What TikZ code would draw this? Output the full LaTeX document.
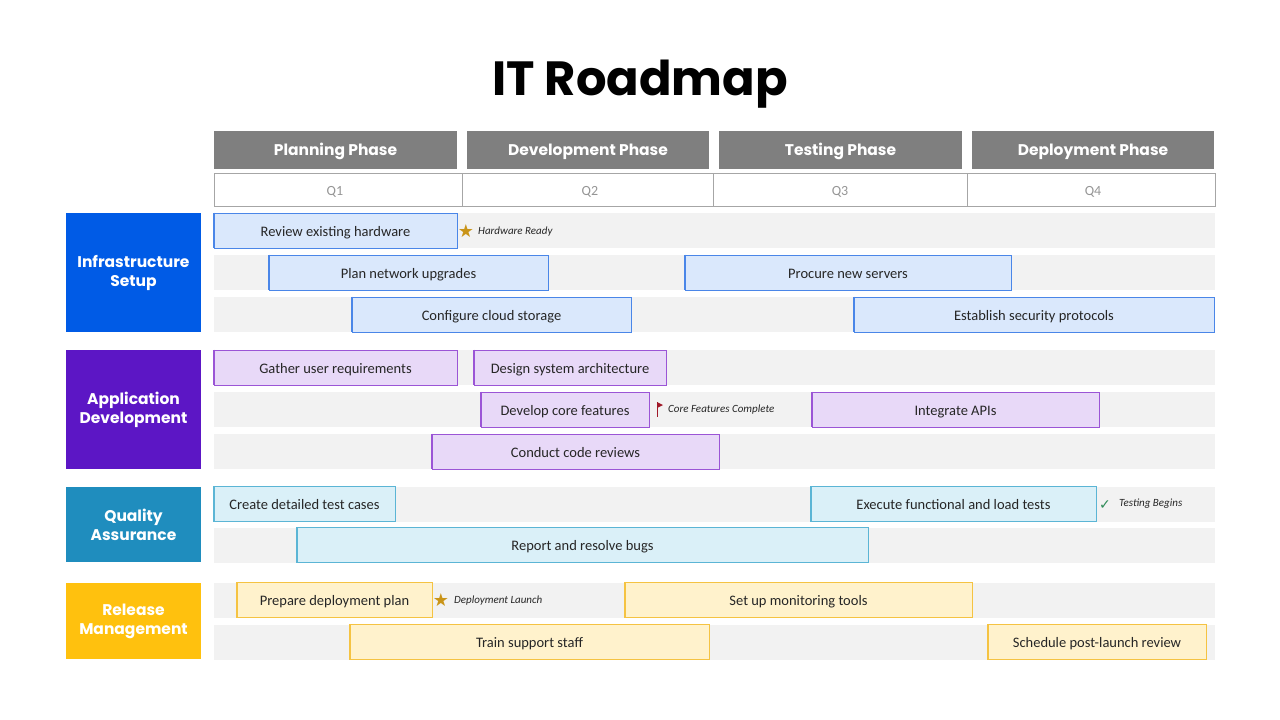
\documentclass[tikz,border=0pt]{standalone}
\usepackage{fontspec}
\setmainfont{Carlito}
\newfontfamily\poppfont{Poppins}
\newfontfamily\symfont{DejaVu Sans}
\usepackage{tikz}
\usetikzlibrary{positioning}
\usepackage{xcolor}

\definecolor{phasegray}{HTML}{7F7F7F}
\definecolor{qgray}{HTML}{A6A6A6}
\definecolor{rowgray}{HTML}{F2F2F2}
\definecolor{infracat}{HTML}{005BE6}
\definecolor{infrafill}{HTML}{DAE8FC}
\definecolor{infraline}{HTML}{4A86E8}
\definecolor{appcat}{HTML}{5C16C5}
\definecolor{appfill}{HTML}{E8D9F8}
\definecolor{appline}{HTML}{9B55D6}
\definecolor{qacat}{HTML}{1F8DBE}
\definecolor{qafill}{HTML}{DAF0F8}
\definecolor{qaline}{HTML}{5BB5D5}
\definecolor{relcat}{HTML}{FFC10E}
\definecolor{relfill}{HTML}{FFF2CC}
\definecolor{relline}{HTML}{F5C342}
\definecolor{stargold}{HTML}{C99418}
\definecolor{flagred}{HTML}{A01828}
\definecolor{checkgreen}{HTML}{2E8B57}

\begin{document}
\begin{tikzpicture}[x=1pt,y=-1pt,
  phasebox/.style={fill=phasegray, text=white, minimum height=38pt, inner sep=0pt,
    text height=12pt, text depth=1pt,
    font=\poppfont\bfseries\fontsize{15.5}{16}\selectfont},
  quarter/.style={text=qgray!90!black, text height=11pt, text depth=1pt,
    font=\fontsize{14}{14}\selectfont},
  catbox/.style={text=white, minimum width=135pt, align=center, inner sep=0pt,
    font=\poppfont\bfseries\fontsize{15.5}{19}\selectfont},
  rowbg/.style={fill=rowgray, minimum width=1001pt, minimum height=35pt, inner sep=0pt},
  infrabar/.style={fill=infrafill, draw=infraline},
  appbar/.style={fill=appfill, draw=appline},
  qabar/.style={fill=qafill, draw=qaline},
  relbar/.style={fill=relfill, draw=relline},
  taskbar/.style={minimum height=35pt, inner sep=0pt, line width=0.8pt, text=black!85,
    text height=13pt, text depth=2pt, font=\fontsize{14.5}{15}\selectfont},
  milestone/.style={anchor=west, inner sep=0pt, text=black!85,
    font=\itshape\fontsize{11}{12}\selectfont},
]
  \useasboundingbox (0,0) rectangle (1280,720);

  \node (title) at (640,84) {\poppfont\bfseries\fontsize{48}{50}\selectfont IT Roadmap};

  % phases and quarters
  \foreach \n/\xa/\xb/\txt in {1/214/457/Planning Phase, 2/467/709/Development Phase,
      3/719/962/Testing Phase, 4/972/1214/Deployment Phase} {
    \pgfmathsetmacro\w{\xb-\xa}
    \node (phase\n) [phasebox, minimum width=\w pt] at ({(\xa+\xb)/2},150) {\txt};
  }
  \node (qrow) [draw=qgray, line width=0.8pt, minimum width=1001pt, minimum height=33pt,
    inner sep=0pt] at (714.5,189.5) {};
  \foreach \xd in {462,713,967}
    \draw[qgray, line width=0.8pt] (\xd,173) -- (\xd,206);
  \node (q1) [quarter] at (335,190) {Q1};
  \node (q2) [quarter] at (590,190) {Q2};
  \node (q3) [quarter] at (840,190) {Q3};
  \node (q4) [quarter] at (1093,190) {Q4};

  % categories
  \node (infra) [catbox, fill=infracat, minimum height=119pt] at (133.5,272.5) {Infrastructure\\Setup};
  \node (app) [catbox, fill=appcat, minimum height=119pt] at (133.5,409.5) {Application\\Development};
  \node (qa) [catbox, fill=qacat, minimum height=75pt] at (133.5,524.5) {Quality\\Assurance};
  \node (rel) [catbox, fill=relcat, minimum height=76pt] at (133.5,621) {Release\\Management};

  % row backgrounds
  \foreach \y [count=\r] in {230.5,272.5,314.5,367.5,409.5,451.5,504,545,600,642}
    \node (row\r) [rowbg] at (714.5,\y) {};

  % task bars
  \foreach \n/\xa/\xb/\y/\kind/\txt in {
      1/214/457/230.5/infra/Review existing hardware,
      2/269/548/272.5/infra/Plan network upgrades,
      3/685/1011/272.5/infra/Procure new servers,
      4/352/631/314.5/infra/Configure cloud storage,
      5/854/1214/314.5/infra/Establish security protocols,
      6/214/457/367.5/app/Gather user requirements,
      7/474/666/367.5/app/Design system architecture,
      8/481/649/409.5/app/Develop core features,
      9/812/1099/409.5/app/Integrate APIs,
      10/432/719/451.5/app/Conduct code reviews,
      11/214/395/504/qa/Create detailed test cases,
      12/811/1096/504/qa/Execute functional and load tests,
      13/297/868/545/qa/Report and resolve bugs,
      14/237/432/600/rel/Prepare deployment plan,
      15/625/972/600/rel/Set up monitoring tools,
      16/350/709/642/rel/Train support staff,
      17/988/1206/642/rel/Schedule post-launch review} {
    \pgfmathsetmacro\w{\xb-\xa}
    \node (bar\n) [taskbar, \kind bar, minimum width=\w pt] at ({(\xa+\xb)/2},\y) {\txt};
    \draw[\kind line, line width=2pt] (bar\n.north west) -- (bar\n.south west);
  }

  % milestones
  \node (star1) [text=stargold, inner sep=0pt] at (466,231) {\symfont\fontsize{18}{18}\selectfont ★};
  \node (ms1) [milestone] at (478,231.5) {Hardware Ready};
  \coordinate (pole) at (657,402);
  \draw[flagred, line width=1pt] (pole) -- ++(0,15);
  \fill[flagred] (pole) -- ++(6,3) -- ++(-6,3) -- cycle;
  \node (ms2) [milestone] at (668,409.5) {Core Features Complete};
  \node (check) [text=checkgreen, inner sep=0pt] at (1105,505) {\symfont\fontsize{14}{14}\selectfont ✓};
  \node (ms3) [milestone] at (1119,504) {Testing Begins};
  \node (star2) [text=stargold, inner sep=0pt] at (441,600) {\symfont\fontsize{18}{18}\selectfont ★};
  \node (ms4) [milestone] at (454,600.5) {Deployment Launch};
\end{tikzpicture}
\end{document}
